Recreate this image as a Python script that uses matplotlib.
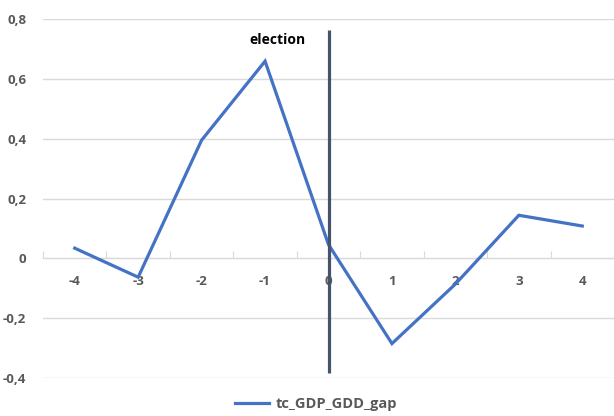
import matplotlib
matplotlib.use("Agg")
import matplotlib.pyplot as plt
from matplotlib.ticker import FixedLocator, FuncFormatter

# Quarters relative to the election and the GDP gap series
periods = [-4, -3, -2, -1, 0, 1, 2, 3, 4]
gap = [0.034, -0.063, 0.395, 0.659, 0.046, -0.285, -0.086, 0.144, 0.108]
series_name = "tc_GDP_GDD_gap"
y_ticks = [-0.4, -0.2, 0.0, 0.2, 0.4, 0.6, 0.8]
election_period = 0
election_span = (-0.384, 0.763)
election_label = "election"

plt.rcParams["font.family"] = ["Open Sans", "DejaVu Sans"]
label_color = "#595959"
grid_color = "#D9D9D9"

fig = plt.figure(figsize=(6.14, 4.16), dpi=100)
ax = fig.add_axes([43 / 614, 1 - 378 / 416, 1 - 43 / 614, (378 - 19) / 416])

pos = list(range(len(periods)))
ax.plot(pos, gap, color="#4472C4", lw=2.3, solid_joinstyle="miter",
        label=series_name, zorder=3)

# Election marker
ex = periods.index(election_period)
ax.vlines(ex, election_span[0], election_span[1], color="#44546A", lw=2.3, zorder=4)
ax.text(ex - 0.81, 0.729, election_label, fontsize=10, fontweight="bold",
        color="black", ha="center", va="center")

ax.set_xlim(-0.5, len(periods) - 0.5)
ax.set_ylim(y_ticks[0], y_ticks[-1])

# Horizontal grid
ax.set_yticks(y_ticks)
ax.yaxis.set_major_formatter(FuncFormatter(
    lambda v, _: "0" if abs(v) < 1e-9 else f"{v:.1f}".replace(".", ",")))
ax.grid(axis="y", color=grid_color, lw=1)
ax.tick_params(axis="y", length=0, pad=12, labelsize=9.5, labelcolor=label_color)
for lbl in ax.get_yticklabels():
    lbl.set_fontweight("bold")

# Category axis crossing at zero
for s in ["top", "right", "left"]:
    ax.spines[s].set_visible(False)
ax.spines["bottom"].set_position(("data", 0))
ax.spines["bottom"].set_color(grid_color)
ax.xaxis.set_major_locator(FixedLocator([p - 0.5 for p in pos] + [len(pos) - 0.5]))
ax.xaxis.set_major_formatter(FuncFormatter(lambda v, _: ""))
ax.xaxis.set_minor_locator(FixedLocator(pos))
ax.set_xticklabels([str(p) for p in periods], minor=True)
ax.tick_params(axis="x", which="major", direction="in", length=5, color=grid_color)
ax.tick_params(axis="x", which="minor", length=0, pad=12, labelsize=9.5,
               labelcolor=label_color)
for lbl in ax.get_xticklabels(minor=True):
    lbl.set_fontweight("bold")

fig.legend(loc="lower center", bbox_to_anchor=(0.515, -0.02), frameon=False,
           handlelength=2.3, handletextpad=0.5, labelcolor=label_color,
           prop={"weight": "bold", "size": 10.5})

fig.savefig("out.png", dpi=100)
